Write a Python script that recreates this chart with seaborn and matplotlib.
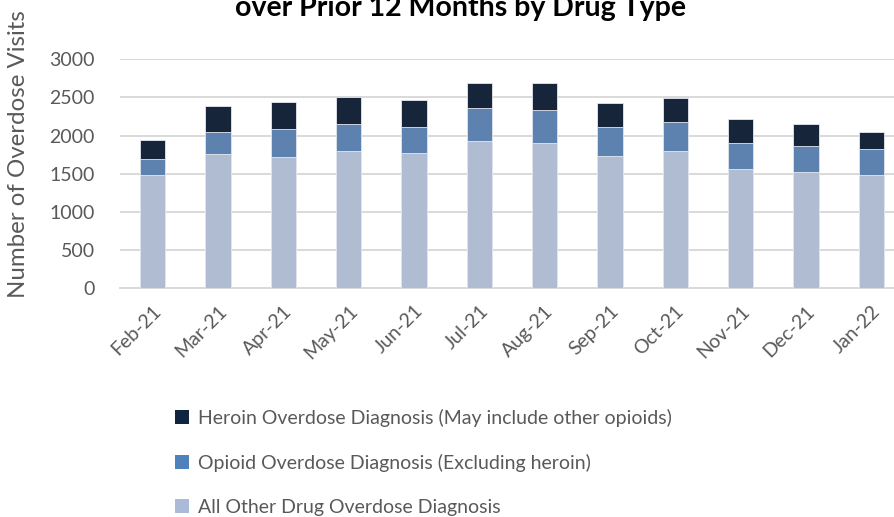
import numpy as np
import pandas as pd
import matplotlib
matplotlib.use("Agg")
import matplotlib.pyplot as plt
from matplotlib.patches import Patch
import seaborn as sns

months = ["Feb-21", "Mar-21", "Apr-21", "May-21", "Jun-21", "Jul-21",
          "Aug-21", "Sep-21", "Oct-21", "Nov-21", "Dec-21", "Jan-22"]
other_drug = [1485, 1760, 1721, 1799, 1777, 1926, 1904, 1734, 1799, 1568, 1524, 1485]
opioid_excl_heroin = [209, 288, 371, 354, 337, 437, 437, 380, 376, 336, 336, 336]
heroin = [249, 336, 354, 354, 349, 331, 353, 310, 314, 310, 289, 227]

labels = ["Heroin Overdose Diagnosis (May include other opioids)",
          "Opioid Overdose Diagnosis (Excluding heroin)",
          "All Other Drug Overdose Diagnosis"]
colors = ["#10243f", "#4f81bd", "#abbad6"]

df = pd.DataFrame({"month": months, "other": other_drug,
                   "opioid": opioid_excl_heroin, "heroin": heroin})
df["mid"] = df["other"] + df["opioid"]
df["total"] = df["mid"] + df["heroin"]

sns.set_style("white")
plt.rcParams["font.family"] = ["Lato", "DejaVu Sans"]
grey = "#595959"

fig = plt.figure(figsize=(8.95, 5.17), dpi=100)
ax = fig.add_axes([0.134, 0.4423, 0.876, 0.4430])

# stacked bars: draw cumulative totals from tallest to shortest
for col, c in zip(["total", "mid", "other"], colors):
    sns.barplot(data=df, x="month", y=col, color=c, width=0.39,
                edgecolor="#e4e8f0", linewidth=0.6, ax=ax, zorder=3)

ax.set_ylim(0, 3000)
ax.set_xlim(-0.5, len(months) - 0.5)
ax.set_yticks(range(0, 3001, 500))
ax.yaxis.grid(True, color="#d9d9d9", linewidth=1.4, zorder=0)
ax.set_axisbelow(True)
for s in ["top", "right", "left"]:
    ax.spines[s].set_visible(False)
ax.spines["bottom"].set_color("#d9d9d9")
ax.spines["bottom"].set_linewidth(1.4)

ax.set_xlabel("")
ax.set_ylabel("Number of Overdose Visits", fontsize=17.3, color=grey)
ax.yaxis.set_label_coords(-0.116, 0.585)

ax.tick_params(axis="y", length=0, pad=18, labelsize=14, labelcolor=grey)
ax.set_xticks(range(len(months)))
ax.set_xticklabels(months, rotation=45, ha="right", rotation_mode="anchor",
                   fontsize=14, color=grey)
ax.tick_params(axis="x", length=0, pad=10)
# category boundary tick marks on the bottom axis
ax.set_xticks(np.arange(-0.5, len(months), 1), minor=True)
ax.tick_params(axis="x", which="minor", length=6, width=1.4, color="#d9d9d9",
               direction="out")

# first title line lies above the visible area, as in the original crop
fig.text(0.514, 0.969, "over Prior 12 Months by Drug Type", ha="center",
         va="baseline", fontsize=20.5, fontweight="bold", color="black")

handles = [Patch(facecolor=c, edgecolor="none") for c in colors]
fig.legend(handles, labels, loc="upper left", bbox_to_anchor=(0.187, 0.225),
           frameon=False, fontsize=14, labelcolor=grey, handlelength=0.7,
           handleheight=0.7, handletextpad=0.45, labelspacing=1.4,
           borderaxespad=0)

fig.savefig("out.png", dpi=100)
